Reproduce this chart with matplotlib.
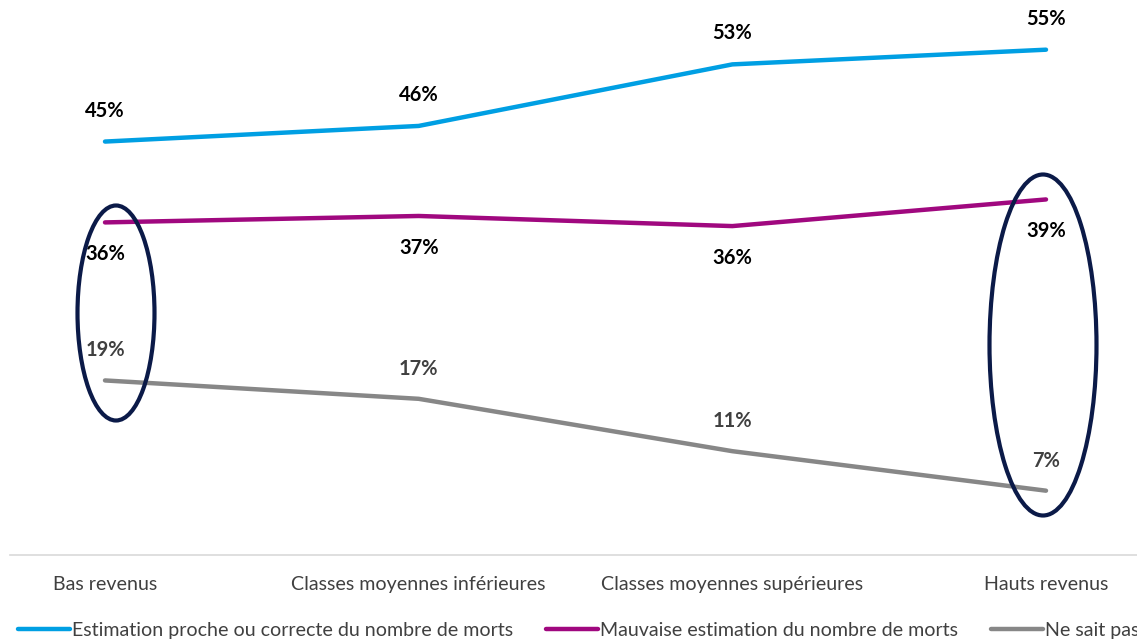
import matplotlib
matplotlib.use("Agg")
import matplotlib.pyplot as plt
from matplotlib.patches import Ellipse
from matplotlib.lines import Line2D

plt.rcParams['font.family'] = ['Lato', 'DejaVu Sans']

categories = ["Bas revenus", "Classes moyennes inférieures",
              "Classes moyennes supérieures", "Hauts revenus"]
series_names = ["Estimation proche ou correcte du nombre de morts",
                "Mauvaise estimation du nombre de morts",
                "Ne sait pas"]
estimation_correcte = [45.0, 46.7, 53.4, 55.0]
mauvaise_estimation = [36.2, 36.9, 35.8, 38.7]
ne_sait_pas = [19.0, 17.0, 11.3, 7.0]
labels_correcte = ["45%", "46%", "53%", "55%"]
labels_mauvaise = ["36%", "37%", "36%", "39%"]
labels_nsp = ["19%", "17%", "11%", "7%"]

colors = ["#009FE3", "#A0087F", "#878787"]
label_colors = ["#000000", "#000000", "#404040"]

W, H = 1137, 639
fig = plt.figure(figsize=(W / 100, H / 100), dpi=100)
ax = fig.add_axes([10 / W, (H - 555) / H, 1 - 10 / W, 555 / H])
x = list(range(len(categories)))
px_per_x = (1046 - 105) / 3
ax.set_xlim(-(105 - 10) / px_per_x, 3 + (1137 - 1046) / px_per_x)
px_per_y = (491 - 50) / 48
ax.set_ylim(0, 555 / px_per_y)

series = [estimation_correcte, mauvaise_estimation, ne_sait_pas]
labels = [labels_correcte, labels_mauvaise, labels_nsp]
offsets = [31, -32, 30]
for vals, labs, c, lc, off in zip(series, labels, colors, label_colors, offsets):
    ax.plot(x, vals, color=c, lw=3.2, solid_capstyle='round', zorder=3)
    for xi, v, lab in zip(x, vals, labs):
        ax.annotate(lab, (xi, v), xytext=(0, off * 0.72), textcoords='offset points',
                    ha='center', va='center', fontsize=14.5, fontweight='bold', color=lc)

navy = "#0B1A48"
ax.add_patch(Ellipse((0 + (116 - 105) / px_per_x, (555 - 313) / px_per_y),
                     77 / px_per_x, 215 / px_per_y, fill=False, ec=navy, lw=3.0, zorder=4))
ax.add_patch(Ellipse((3 + (1043 - 1046) / px_per_x, (555 - 345) / px_per_y),
                     107 / px_per_x, 341 / px_per_y, fill=False, ec=navy, lw=3.0, zorder=4))

for s in ['top', 'right', 'left']:
    ax.spines[s].set_visible(False)
ax.spines['bottom'].set_color('#D9D9D9')
ax.spines['bottom'].set_linewidth(1.2)
ax.set_yticks([])
ax.set_xticks(x)
ax.set_xticklabels(categories, fontsize=14.1, color='#404040')
ax.tick_params(axis='x', length=0, pad=15)

handles = [Line2D([0], [0], color=c, lw=3.2, solid_capstyle='round') for c in colors]
fig.legend(handles, series_names, loc='lower left', bbox_to_anchor=(18 / W, 0.0),
           ncol=3, frameon=False, fontsize=14.1, handlelength=2.65, handletextpad=0.1,
           columnspacing=1.7, borderaxespad=0, borderpad=0.0, labelcolor='#404040')

fig.savefig("out.png", dpi=100)
